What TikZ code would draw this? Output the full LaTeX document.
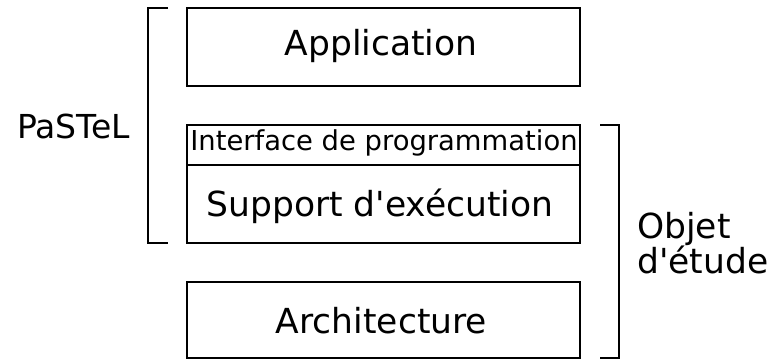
\documentclass[tikz,border=0pt]{standalone}
\usepackage{fontspec}
\setmainfont{DejaVu Sans}[Ligatures=TeXOff]
\begin{document}
\begin{tikzpicture}[x=1pt,y=1pt,
  layerbox/.style={draw,line width=1.9pt,inner sep=0pt,minimum width=393pt},
  big/.style={font=\fontsize{34.5}{35}\selectfont,inner sep=0pt,anchor=base},
  small/.style={font=\fontsize{27.4}{28}\selectfont,inner sep=0pt,anchor=base},
  bracket/.style={line width=1.9pt}]
\useasboundingbox (0,0) rectangle (774,360);
% boxes
\node[layerbox,minimum height=78pt] (app) at (383.5,313) {};
\node[layerbox,minimum height=40pt] (api) at (383.5,215) {};
\node[layerbox,minimum height=78pt] (sup) at (383.5,156) {};
\node[layerbox,minimum height=76pt] (arch) at (383.5,40) {};
% texts
\node[big] (tapp) at (381,305) {Application};
\node[small] (tapi) at (384,210) {Interface de programmation};
\node[big] (tsup) at (380,144) {Support d'exécution};
\node[big] (tarch) at (381.5,27) {Architecture};
\node[font=\fontsize{33}{34}\selectfont,inner sep=0pt,anchor=base] (pastel) at (73.5,222) {PaSTeL};
\node[font=\fontsize{34.5}{35}\selectfont,inner sep=0pt,anchor=base west] (obj1) at (637,122) {Objet};
\node[font=\fontsize{34.5}{35}\selectfont,inner sep=0pt,anchor=base west] (obj2) at (637,87) {d'étude};
% brackets
\coordinate (lb1) at (168,352);
\coordinate (lb2) at (148,352);
\coordinate (lb3) at (148,117);
\coordinate (lb4) at (168,117);
\draw[bracket] (lb1) -- (lb2) -- (lb3) -- (lb4);
\coordinate (rb1) at (600,235);
\coordinate (rb2) at (619,235);
\coordinate (rb3) at (619,2);
\coordinate (rb4) at (600,2);
\draw[bracket] (rb1) -- (rb2) -- (rb3) -- (rb4);
\end{tikzpicture}
\end{document}
